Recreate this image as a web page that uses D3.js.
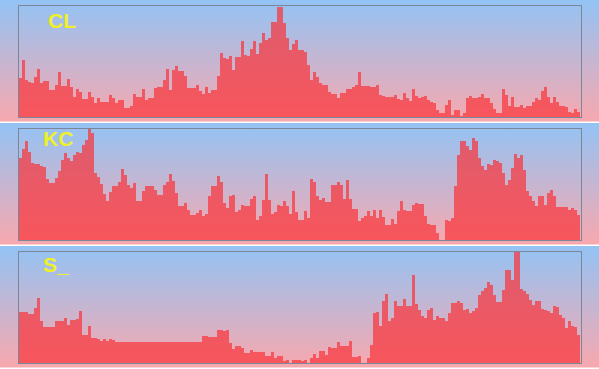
<!DOCTYPE html>
<html>
<head>
<meta charset="utf-8">
<script src="https://cdn.jsdelivr.net/npm/d3@7/dist/d3.min.js"></script>
<style>
    body { margin: 0; background: #ffffff; }
</style>
</head>
<body>
<script>
// series names, one per panel
var seriesNames = ["CL", "KC", "S_"];

// values (0 = baseline, 112 = top of the frame)
var clValues = [
    39,57,37,35,34,40,48,34,36,36, 27,27,32,45,31,31,38,30,20,28,
    25,18,18,25,20,14,19,15,15,15, 22,19,14,17,17,9,9,11,23,20,
    20,28,17,19,19,29,30,30,37,48, 27,47,51,46,46,41,29,29,29,32,
    26,23,30,24,27,27,41,64,59,58, 61,47,60,60,76,62,61,68,76,63,
    74,84,77,79,95,95,110,110,94,79, 67,73,77,67,67,65,52,37,45,40,
    34,32,32,25,23,23,19,24,24,28, 28,30,32,45,31,31,31,30,30,32,
    22,21,20,20,20,22,18,17,24,19, 16,28,21,19,20,21,17,15,14,7,
    4,4,12,17,2,7,7,1,4,19, 21,19,19,20,23,19,19,14,8,4,
    4,28,22,11,20,10,10,12,9,11, 11,15,19,17,26,30,20,14,20,15,
    11,11,10,5,4,8,5
];

var kcValues = [
    82,91,99,88,77,76,76,74,73,61, 57,57,62,69,80,87,82,79,85,88,
    87,95,100,111,107,67,63,56,46,39, 48,54,54,58,71,65,55,52,57,39,
    39,49,54,54,54,50,45,45,55,58, 66,59,47,34,34,37,30,25,25,27,
    30,24,26,44,54,54,64,58,37,32, 44,45,28,30,35,34,34,41,44,20,
    24,40,66,40,26,28,35,34,39,34, 26,49,28,20,20,29,22,61,58,44,
    40,42,38,38,55,55,58,55,41,60, 41,31,31,19,22,24,29,24,30,22,
    30,23,15,15,21,16,29,39,30,29, 29,35,37,36,36,24,16,15,15,7,
    0,0,20,19,22,54,85,99,99,94, 90,102,99,82,74,70,76,75,80,79,
    77,67,55,60,72,86,82,85,70,49, 44,39,34,44,44,35,47,50,44,33,
    33,33,33,30,32,30,25
];

var sValues = [
    51,51,51,49,49,55,65,42,36,36, 36,36,42,42,42,45,38,43,43,44,
    52,28,28,37,25,25,24,22,24,22, 24,23,21,21,21,21,21,21,21,21,
    21,21,21,21,21,21,21,21,21,21, 21,21,21,21,21,21,21,21,21,21,
    21,27,27,26,26,26,33,33,32,33, 20,14,17,17,15,10,10,13,11,11,
    11,11,7,7,11,5,7,7,2,3, 0,3,3,3,2,3,0,5,9,5,
    12,12,8,16,15,15,21,17,17,17, 22,6,6,7,0,0,5,18,50,51,
    37,62,69,42,45,62,57,57,64,57, 57,88,59,53,47,45,53,55,43,47,
    45,45,42,50,60,60,62,60,53,54, 50,52,55,68,72,75,81,78,68,61,
    61,73,93,93,83,112,112,74,72,69, 63,58,62,62,54,53,52,50,57,56,
    48,45,35,42,37,36,28
];

var yMax = 112;

//execute script when window is loaded
window.onload = function(){

    var w = 599, h = 369;
    var panelH = 123; // one panel per series
    var allValues = [clValues, kcValues, sValues];
    var labelPos = [[48, 28], [43, 23], [43, 26]]; // label x, baseline inside panel

    var svg = d3.select("body")
        .append("svg")
        .attr("width", w)
        .attr("height", h);

    // blue to pink background gradient
    var grad = svg.append("defs")
        .append("linearGradient")
        .attr("id", "bgGrad")
        .attr("x1", 0).attr("y1", 0)
        .attr("x2", 0).attr("y2", 1);
    grad.append("stop").attr("offset", "0%").attr("stop-color", "#93c3f5");
    grad.append("stop").attr("offset", "100%").attr("stop-color", "#f8a8ae");

    var x = d3.scaleLinear()
        .domain([0, clValues.length])
        .range([19, 580]);

    allValues.forEach(function(values, k){
        var top = k * panelH;

        var y = d3.scaleLinear()
            .domain([0, yMax])
            .range([top + 117, top + 5]);

        var g = svg.append("g").attr("class", "panel");

        // panel background
        g.append("rect")
            .attr("x", 0)
            .attr("y", top)
            .attr("width", w)
            .attr("height", panelH - 1.5)
            .style("fill", "url(#bgGrad)");

        // step area, last value repeated so the final step has width
        var pts = values.map(function(d, i){ return [i, d]; });
        pts.push([values.length, values[values.length - 1]]);

        var area = d3.area()
            .curve(d3.curveStepAfter)
            .x(function(d){ return x(d[0]); })
            .y0(y(0))
            .y1(function(d){ return y(d[1]); });

        g.append("path")
            .datum(pts)
            .attr("d", area)
            .style("fill", "#fa3237")
            .style("fill-opacity", 0.7);

        // frame
        g.append("rect")
            .attr("x", 18.5)
            .attr("y", top + 5.5)
            .attr("width", 563)
            .attr("height", 112)
            .style("fill", "none")
            .style("stroke", "#7b8796")
            .style("stroke-width", 1);

        // series label
        g.append("text")
            .attr("x", labelPos[k][0])
            .attr("y", top + labelPos[k][1])
            .text(seriesNames[k])
            .style("fill", "#f0f02a")
            .style("font-family", "'Liberation Sans', Arial, sans-serif")
            .style("font-weight", "bold")
            .style("font-size", "21px");
    });
};
</script>
</body>
</html>
